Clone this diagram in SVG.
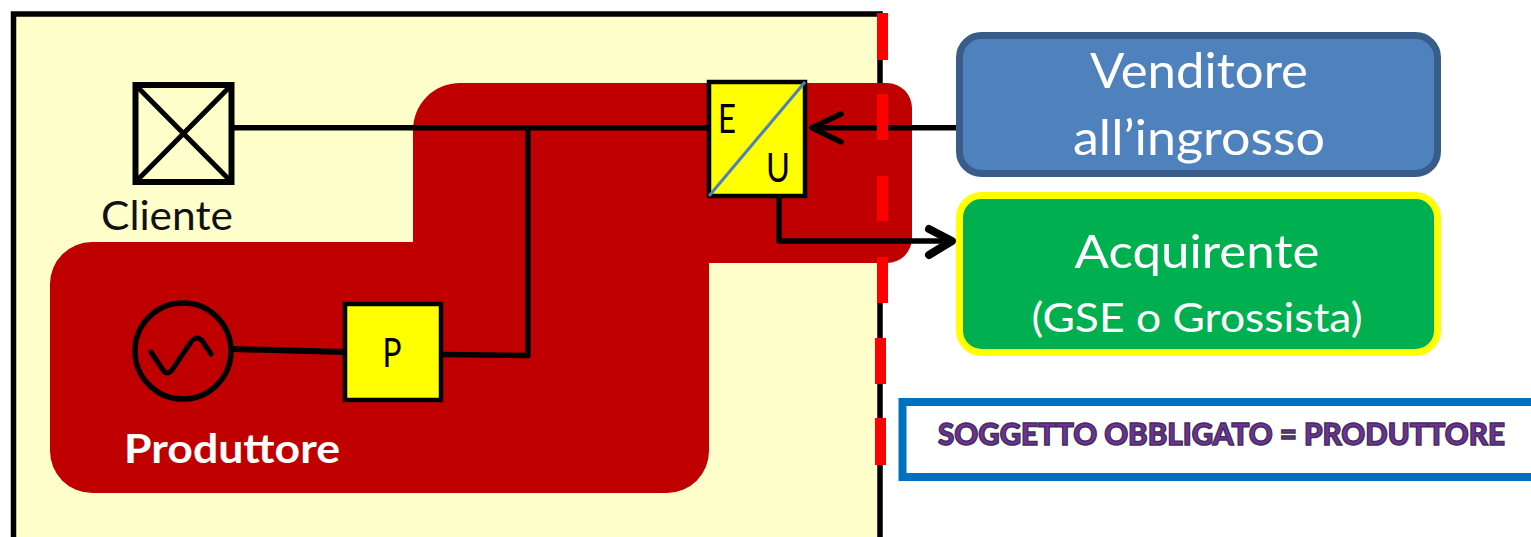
<svg xmlns="http://www.w3.org/2000/svg" width="1531" height="537" viewBox="0 0 1531 537">
<style>
.k{fill:none;stroke:#000;stroke-linejoin:round}
.h{stroke-linecap:round}
.sq{fill:#ff0;stroke:#000;stroke-width:4.500}
.f{font-family:"Lato","Open Sans",sans-serif;text-anchor:middle}
.w{fill:#fff}
.dash{fill:#f00}
</style>
<rect width="1531" height="537" fill="#fff"/>
<g id="boundary"><path d="M13.500 537V14H880V537" fill="#ffc" stroke="#000" stroke-width="5.500"/></g>
<g id="produttore-area">
<path d="M460 83H887A25 25 0 0 1 912 108V238A25 25 0 0 1 887 263H709V451A42 42 0 0 1 667 493H92A42 42 0 0 1 50 451V284A42 42 0 0 1 92 242H413V130A47 47 0 0 1 460 83Z" fill="#c00000"/>
<text class="f w" x="232" y="463" font-size="40" font-weight="700" textLength="216" lengthAdjust="spacingAndGlyphs">Produttore</text>
</g>
<g id="connectors">
<path class="k" stroke-width="5.500" d="M232 127.700H708"/>
<path class="k" stroke-width="5.500" d="M528 128V355.500L441 354.500"/>
<path class="k" stroke-width="6" d="M232 349L345 352"/>
<path class="k" stroke-width="5.500" d="M956 127.700H813"/>
<path class="k h" stroke-width="5.500" d="M841 114L812 127.700L841 142"/>
<path class="k" stroke-width="5.500" d="M779 196V241H950"/>
<path class="k h" stroke-width="8" d="M929 229L952 241L929 255"/>
</g>
<g id="cliente">
<rect x="135.500" y="85" width="96" height="97" fill="#ffc" stroke="#000" stroke-width="6"/>
<path d="M135.500 85L231.500 182M231.500 85L135.500 182" stroke="#000" stroke-width="5"/>
<text class="f" x="167" y="230" font-size="41" fill="#111" textLength="132" lengthAdjust="spacingAndGlyphs">Cliente</text>
</g>
<g id="generatore">
<circle cx="183" cy="351" r="48" fill="none" stroke="#000" stroke-width="5.500"/>
<path d="M151 352L163 370Q167 376 172 370L191 342Q197 334 203 342L211 354" fill="none" stroke="#000" stroke-width="5" stroke-linecap="round"/>
</g>
<g id="p">
<rect class="sq" x="345" y="304" width="96" height="96"/>
<text class="f" x="392" y="367" font-size="40" textLength="19" lengthAdjust="spacingAndGlyphs">P</text>
</g>
<g id="eu">
<rect class="sq" x="709" y="82" width="96" height="114"/>
<path d="M709 196L805 82" stroke="#4f81bd" stroke-width="3"/>
<text class="f" x="727" y="133" font-size="41" textLength="18" lengthAdjust="spacingAndGlyphs">E</text>
<text class="f" x="778" y="182" font-size="41" textLength="24" lengthAdjust="spacingAndGlyphs">U</text>
</g>
<g id="taglio">
<rect class="dash" x="877" y="13" width="11" height="47"/>
<rect class="dash" x="877" y="94" width="11" height="46"/>
<rect class="dash" x="877" y="176" width="11" height="45"/>
<rect class="dash" x="877" y="257" width="11" height="46"/>
<rect class="dash" x="875" y="338" width="11" height="46"/>
<rect class="dash" x="875" y="418" width="11" height="47"/>
</g>
<g id="venditore">
<rect x="959.500" y="35.500" width="478" height="138" rx="22" fill="#4f81bd" stroke="#385d8a" stroke-width="7"/>
<text class="f w" x="1199" y="88" font-size="49" textLength="218" lengthAdjust="spacingAndGlyphs">Venditore</text>
<text class="f w" x="1199" y="155" font-size="49" textLength="252" lengthAdjust="spacingAndGlyphs">all’ingrosso</text>
</g>
<g id="acquirente">
<rect x="959.500" y="195.500" width="478" height="157" rx="22" fill="#00b050" stroke="#ff0" stroke-width="7"/>
<text class="f w" x="1197" y="268" font-size="47" textLength="245" lengthAdjust="spacingAndGlyphs">Acquirente</text>
<text class="f w" x="1197" y="332" font-size="41" textLength="331" lengthAdjust="spacingAndGlyphs">(GSE o Grossista)</text>
</g>
<g id="soggetto">
<rect x="902.500" y="402" width="640" height="75" fill="#fff" stroke="#0070c0" stroke-width="8"/>
<text class="f" x="1221.500" y="445" font-size="31" font-weight="900" fill="#7030a0" stroke="#403152" stroke-width="1.500" textLength="567" lengthAdjust="spacingAndGlyphs">SOGGETTO OBBLIGATO = PRODUTTORE</text>
</g>
</svg>
